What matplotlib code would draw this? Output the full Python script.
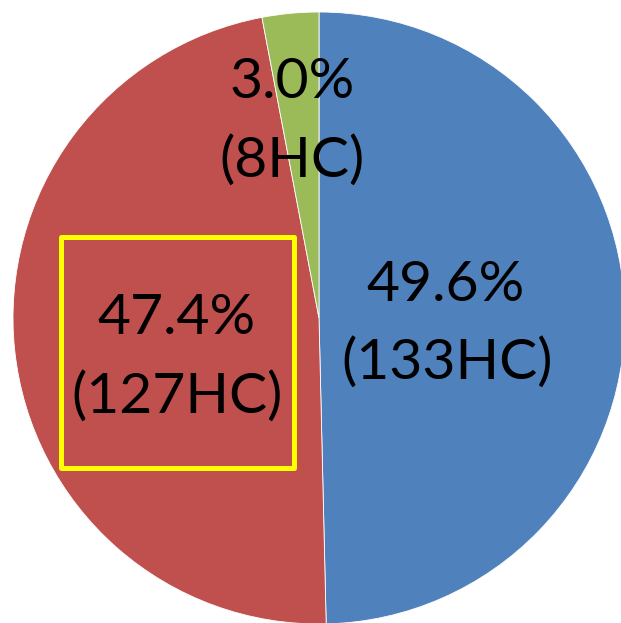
import matplotlib
matplotlib.use("Agg")
import matplotlib.pyplot as plt
from matplotlib.patches import Rectangle

# Data
labels = ["Blue", "Red", "Green"]
counts = [133, 127, 8]
colors = ["#4F81BD", "#C0504D", "#9BBB59"]
pct_texts = ["49.6%", "47.4%", "3.0%"]
count_texts = ["(133HC)", "(127HC)", "(8HC)"]

W, H = 621, 623
fig = plt.figure(figsize=(W / 100, H / 100), dpi=100)
ax = fig.add_axes([0, 0, 1, 1])

cx, cy, r = 319, H - 318, 306
ax.pie(counts, colors=colors, startangle=90, counterclock=False,
       center=(cx, cy), radius=r,
       wedgeprops=dict(edgecolor="white", linewidth=0.6))
ax.set_xlim(0, W)
ax.set_ylim(0, H)
ax.set_aspect("equal")
ax.axis("off")

# label positions (pixel coordinates: x center, baseline y from top)
pos = [((446, 301), (447, 379)),
       ((176, 334), (177, 413)),
       ((292, 98), (292, 177))]
fs = 41
for (p1, p2), t1, t2 in zip(pos, pct_texts, count_texts):
    ax.text(p1[0], H - p1[1], t1, ha="center", va="baseline", fontsize=fs,
            family="Lato", color="black")
    ax.text(p2[0], H - p2[1], t2, ha="center", va="baseline", fontsize=fs,
            family="Lato", color="black")

x0, x1, y0, y1 = 60.8, 294, 236.5, 468
ax.add_patch(Rectangle((x0, H - y1), x1 - x0, y1 - y0, fill=False,
                       edgecolor="#FFFF00", linewidth=3.6, joinstyle="round"))

fig.savefig("out.png", dpi=100)
